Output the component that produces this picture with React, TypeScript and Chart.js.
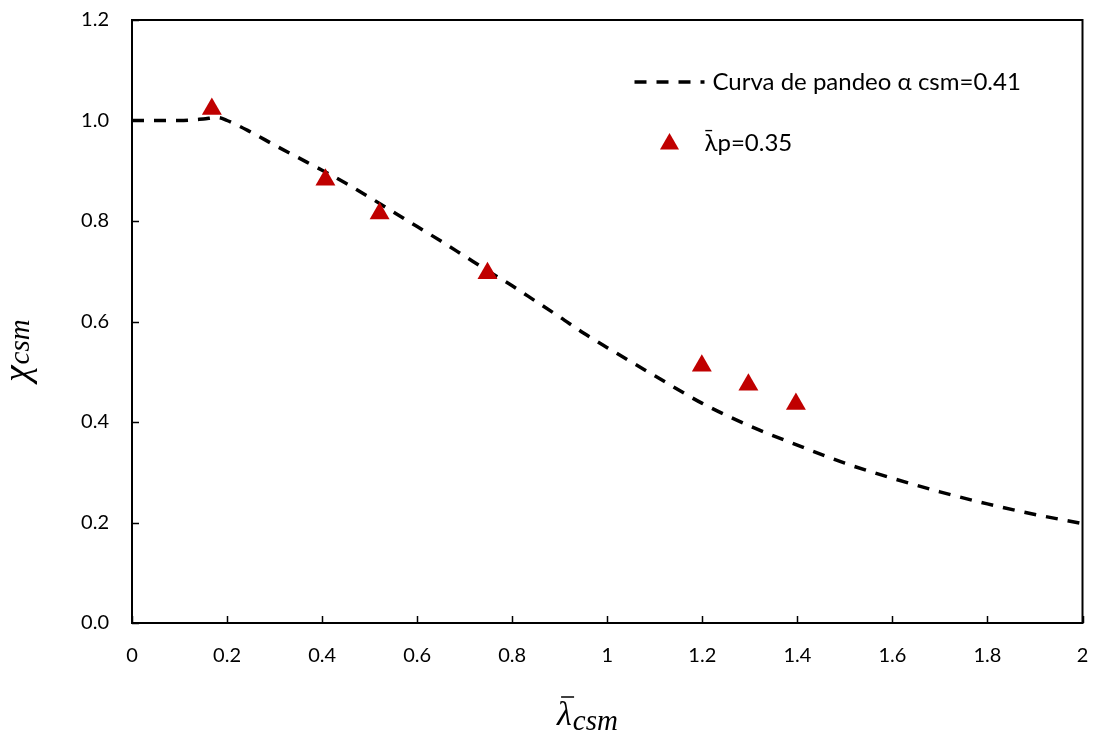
import React, { useEffect, useRef } from "react";
import { Chart, registerables } from "chart.js";

Chart.register(...registerables);

// Buckling curve
const curveX = [0, 0.05, 0.1, 0.15, 0.18, 0.2, 0.25, 0.3, 0.35, 0.4, 0.45, 0.5, 0.55, 0.6, 0.65, 0.7, 0.75, 0.8, 0.85, 0.9, 0.95, 1.0, 1.1, 1.2, 1.3, 1.4, 1.5, 1.6, 1.7, 1.8, 1.9, 2.0];
const curveY = [1.0, 1.0, 1.0, 1.003, 1.006, 1.0, 0.977, 0.951, 0.926, 0.901, 0.875, 0.847, 0.818, 0.789, 0.76, 0.73, 0.70, 0.671, 0.64, 0.609, 0.577, 0.548, 0.492, 0.437, 0.392, 0.354, 0.318, 0.288, 0.261, 0.237, 0.216, 0.198];

// Test points
const testX = [0.168, 0.407, 0.521, 0.748, 1.199, 1.297, 1.397];
const testY = [1.023, 0.882, 0.815, 0.696, 0.512, 0.474, 0.436];

const xTicks = [0, 0.2, 0.4, 0.6, 0.8, 1.0, 1.2, 1.4, 1.6, 1.8, 2.0];
const yTicks = [0, 0.2, 0.4, 0.6, 0.8, 1.0, 1.2];

const curveLabel = "Curva de pandeo α csm=0.41";
const testLabel = "λ̄p=0.35";
const xTitleMain = "λ";
const yTitleMain = "χ";
const titleSub = "csm";

const RED = "#C00000";
const TICK_FONT = "Lato, 'Noto Sans', sans-serif";

function triangle(ctx: CanvasRenderingContext2D, x: number, y: number, r: number) {
  ctx.beginPath();
  let rad = 0;
  ctx.moveTo(x + Math.sin(rad) * r, y - Math.cos(rad) * r);
  rad += (2 * Math.PI) / 3;
  ctx.lineTo(x + Math.sin(rad) * r, y - Math.cos(rad) * r);
  rad += (2 * Math.PI) / 3;
  ctx.lineTo(x + Math.sin(rad) * r, y - Math.cos(rad) * r);
  ctx.closePath();
  ctx.fill();
}

const noPad = (s: any) => {
  s.paddingTop = 0;
  s.paddingBottom = 0;
  s.paddingLeft = 0;
  s.paddingRight = 0;
};

const decor = {
  id: "decor",
  afterDraw(chart: any) {
    const ctx: CanvasRenderingContext2D = chart.ctx;
    const { left, right, top, bottom } = chart.chartArea;
    const xs = chart.scales.x;
    const ys = chart.scales.y;
    ctx.save();
    // frame
    ctx.strokeStyle = "#000";
    ctx.lineWidth = 2;
    ctx.strokeRect(left, top, right - left, bottom - top);
    // inside ticks
    ctx.lineWidth = 1.5;
    ctx.beginPath();
    xTicks.forEach((v) => {
      const px = Math.round(xs.getPixelForValue(v)) + 0.5;
      ctx.moveTo(px, bottom);
      ctx.lineTo(px, bottom - 7);
    });
    yTicks.forEach((v) => {
      const py = Math.round(ys.getPixelForValue(v)) + 0.5;
      ctx.moveTo(left, py);
      ctx.lineTo(left + 7, py);
    });
    ctx.stroke();

    // legend
    const lx0 = right - 448;
    const lx1 = right - 378;
    const ly1 = top + 62;
    const ly2 = top + 123;
    ctx.strokeStyle = "#000";
    ctx.lineWidth = 3.5;
    ctx.setLineDash([12, 10]);
    ctx.beginPath();
    ctx.moveTo(lx0, ly1);
    ctx.lineTo(lx1, ly1);
    ctx.stroke();
    ctx.setLineDash([]);
    ctx.fillStyle = "#000";
    ctx.font = `24px ${TICK_FONT}`;
    ctx.textBaseline = "middle";
    ctx.textAlign = "left";
    ctx.fillText(curveLabel, right - 370, ly1);
    ctx.fillStyle = RED;
    triangle(ctx, right - 413, ly2 + 1, 11);
    ctx.fillStyle = "#000";
    ctx.fillText(testLabel, right - 378, ly2);

    // x title
    const mathMain = "italic 34px 'Liberation Serif', serif";
    const mathSub = "italic 29px 'Liberation Serif', serif";
    ctx.textBaseline = "alphabetic";
    ctx.font = mathMain;
    const wMain = ctx.measureText(xTitleMain).width;
    ctx.font = mathSub;
    const wSub = ctx.measureText(titleSub).width;
    const tx = 587 - (wMain + wSub) / 2;
    const ty = 725;
    ctx.font = mathMain;
    ctx.fillText(xTitleMain, tx, ty);
    ctx.lineWidth = 1.5;
    ctx.beginPath();
    ctx.moveTo(tx + 4, ty - 28);
    ctx.lineTo(tx + 17, ty - 28);
    ctx.stroke();
    ctx.font = mathSub;
    ctx.fillText(titleSub, tx + wMain + 1, ty + 5);

    // y title
    ctx.save();
    ctx.translate(34, 351);
    ctx.rotate(-Math.PI / 2);
    ctx.font = "italic 37px 'Liberation Serif', serif";
    const wy = ctx.measureText(yTitleMain).width;
    ctx.font = mathSub;
    const wys = ctx.measureText(titleSub).width;
    const sx = -(wy + wys) / 2;
    ctx.font = "italic 37px 'Liberation Serif', serif";
    ctx.fillText(yTitleMain, sx, -5);
    ctx.font = mathSub;
    ctx.fillText(titleSub, sx + wy + 1, -5);
    ctx.restore();

    ctx.restore();
  },
};

export default function App() {
  const ref = useRef<HTMLCanvasElement | null>(null);
  useEffect(() => {
    document.body.style.margin = "0";
    const canvas = ref.current;
    if (!canvas) return;
    const chart = new Chart(canvas, {
      type: "scatter",
      data: {
        datasets: [
          {
            label: testLabel,
            data: testX.map((x, i) => ({ x, y: testY[i] })),
            backgroundColor: RED,
            borderColor: RED,
            pointStyle: "triangle",
            pointRadius: 11.5,
            pointBorderWidth: 0,
            showLine: false,
            order: 0,
          },
          {
            label: curveLabel,
            data: curveX.map((x, i) => ({ x, y: curveY[i] })),
            borderColor: "#000",
            borderWidth: 3.5,
            borderDash: [12, 10],
            pointRadius: 0,
            showLine: true,
            cubicInterpolationMode: "monotone",
            order: 1,
          },
        ],
      },
      options: {
        animation: false,
        responsive: false,
        maintainAspectRatio: false,
        layout: { padding: { top: 20, right: 11, left: 0, bottom: 0 } },
        plugins: { legend: { display: false }, tooltip: { enabled: false } },
        scales: {
          x: {
            type: "linear",
            min: 0,
            max: 2,
            afterBuildTicks: (s: any) => {
              s.ticks = xTicks.map((v) => ({ value: v }));
            },
            afterFit: (s: any) => {
              s.height = 112;
              noPad(s);
            },
            grid: { display: false },
            border: { display: false },
            ticks: {
              color: "#000",
              font: { family: TICK_FONT, size: 20 },
              padding: 13,
              maxRotation: 0,
              autoSkip: false,
              callback: (v: any) => String(Number(Number(v).toFixed(1))),
            },
          },
          y: {
            type: "linear",
            min: 0,
            max: 1.2,
            afterBuildTicks: (s: any) => {
              s.ticks = yTicks.map((v) => ({ value: v }));
            },
            afterFit: (s: any) => {
              s.width = 132;
              noPad(s);
            },
            grid: { display: false },
            border: { display: false },
            ticks: {
              color: "#000",
              font: { family: TICK_FONT, size: 20 },
              padding: 15,
              autoSkip: false,
              callback: (v: any) => Number(v).toFixed(1),
            },
          },
        },
      },
      plugins: [decor],
    });
    return () => chart.destroy();
  }, []);
  return (
    <div style={{ width: 1094, height: 735 }}>
      <canvas ref={ref} width={1094} height={735} style={{ display: "block", width: 1094, height: 735 }} />
    </div>
  );
}
